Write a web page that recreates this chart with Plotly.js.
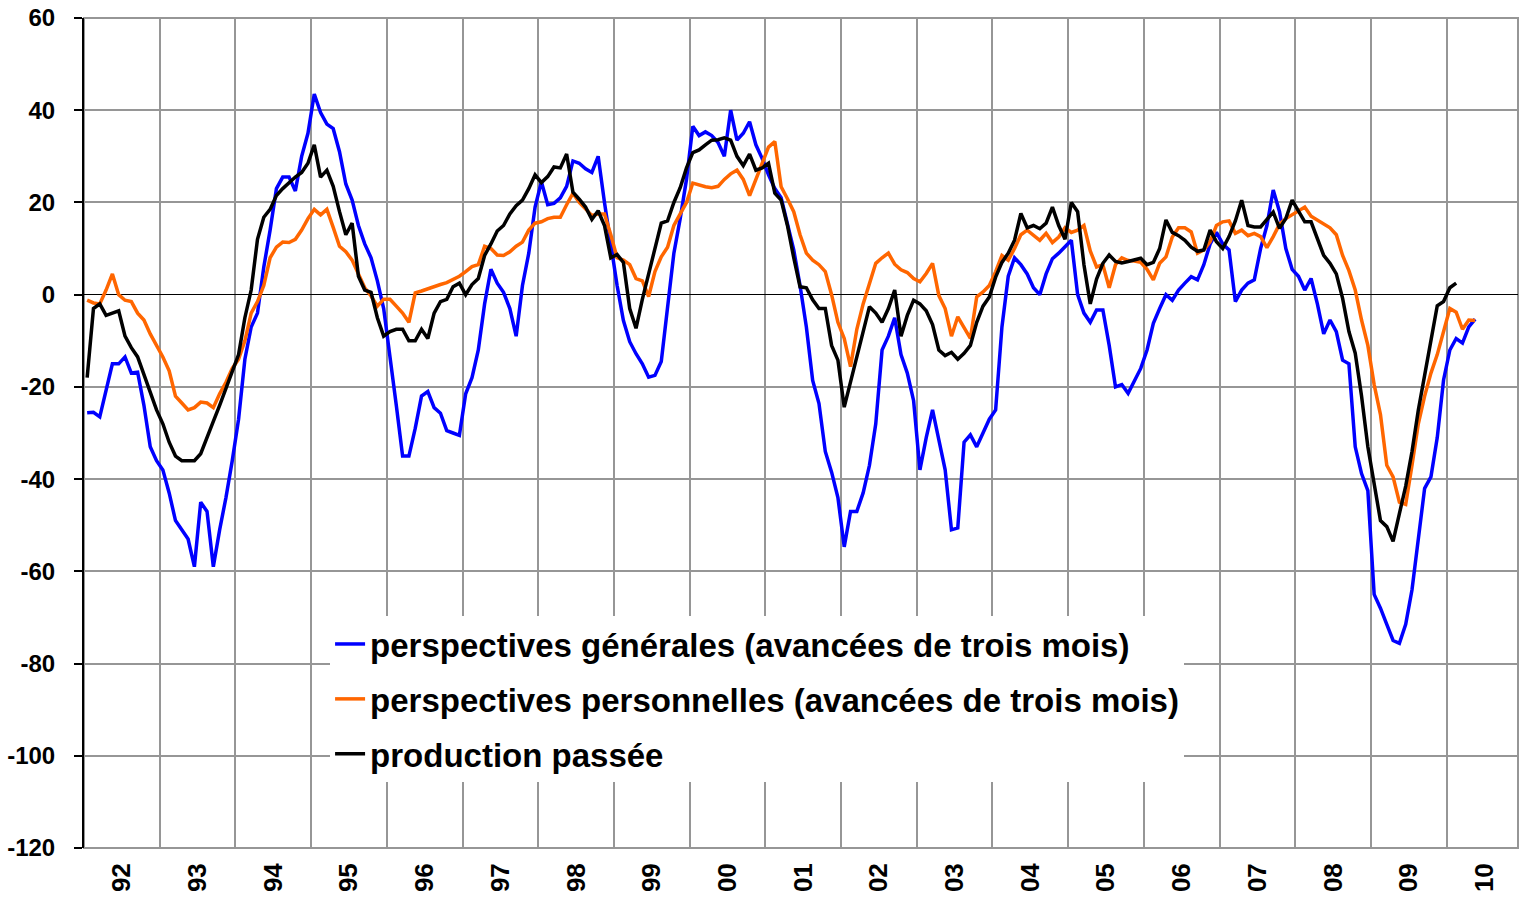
<!DOCTYPE html>
<html>
<head>
<meta charset="utf-8">
<script src="https://cdn.plot.ly/plotly-3.0.1.min.js"></script>
<style>
  html, body { margin: 0; padding: 0; background: #fff; }
  #chart { width: 1525px; height: 902px; }
</style>
</head>
<body>
<div id="chart"></div>
<script>
// monthly series, first value = January 1992
let yearLabels = ['92','93','94','95','96','97','98','99','00','01','02','03','04','05','06','07','08','09','10'];
let yTicks = [-120, -100, -80, -60, -40, -20, 0, 20, 40, 60];

let perspGenerales = [
  -25.6,-25.5,-26.5,-21,-15,-15,-13.5,-17,-16.8,-24,-33,-36,
  -38,-43,-49,-51,-53,-59,-45,-47,-59,-51,-44,-36,
  -27,-14,-7,-4,6,14,23,25.5,25.5,22.5,30,35,
  43.5,39.5,37,36,31,24,20.5,15,11,8,3,-3,
  -13,-24,-35,-35,-29,-22,-21,-24.5,-25.7,-29.5,-30,-30.5,
  -21.5,-18,-12,-2,5.5,2.5,0.5,-3,-9,2,9,19,
  24.5,19.5,19.8,21,23.5,29,28.5,27.3,26.5,30,20,11,
  2,-5.6,-10.2,-12.8,-15,-17.9,-17.5,-14.5,-2,9,16.5,25,
  36.5,34.5,35.3,34.5,33,30,40,33.5,35,37.5,32.5,29.5,
  26,23,21,15,9.7,2,-7,-18.6,-23.6,-34,-38.5,-44,
  -54.7,-47,-47,-43,-37,-28,-12,-9,-5,-13,-17,-23,
  -38,-31,-25,-31.5,-38,-51,-50.6,-32,-30.4,-33,-30,-27,
  -25,-7,4,8,6.5,4.5,1.5,0,4.5,7.8,9,10.5,
  11.8,0,-4,-6,-3.3,-3.3,-11,-20,-19.5,-21.4,-18.5,-16,
  -12,-6.2,-3,0,-1.2,1,2.5,3.9,3.2,6.5,11,13.5,
  11,9.7,-1.5,1,2.5,3.2,10,15,22.7,18,10,5.5,
  4,1,3.5,-2,-8.5,-5.5,-8,-14.2,-15,-33,-38.8,-42.5,
  -65,-68,-71.5,-75,-75.6,-71.5,-64,-53,-42,-39.5,-31,-18.5,
  -12,-9.5,-10.5,-7,-5.3
];

let perspPersonnelles = [
  -1.2,-1.8,-2,1,4.5,0,-1.2,-1.5,-4,-5.5,-8.5,-11,
  -13.5,-16.5,-22,-23.5,-25,-24.5,-23.3,-23.5,-24.5,-21.5,-19,-16,
  -14,-10,-4,-1.5,2,8,10.3,11.4,11.3,12,14,16.5,
  18.5,17.3,18.5,14.6,10.5,9.3,7.5,4.5,1.5,-0.3,-2.5,-1,
  -1,-2.5,-4,-6,0.4,0.8,1.3,1.6,2.2,2.6,3.2,4,
  5,6.1,6.5,10.5,10,8.6,8.5,9.3,10.5,11.4,14,15.5,
  15.8,16.5,16.8,16.8,19.5,22,20,18.5,17.2,17.5,17.5,13,
  8,7.5,6.5,3.5,3,-0.4,5,8.2,10.3,15,17.5,20,
  24.2,23.8,23.4,23.2,23.5,25,26.2,27,25,21.5,25,28,
  32,33.2,23.4,20.8,18,13,9,7.5,6.5,5,0,-6,
  -9.5,-15.6,-7.5,-2,2.5,6.8,8,9,6.6,5.4,4.8,3.5,
  2.8,4.6,6.8,-0.2,-3,-9,-4.8,-7,-9.5,-0.5,0.6,2,
  5,8.5,7.5,10,13,14,12.8,11.8,13.3,11.3,12.5,14.5,
  13.5,14,15,9.5,6,6.5,1.5,6.5,8,7.4,7.3,7,
  5.5,3.2,6.8,8.2,12.5,14.5,14.5,13.6,9,9.7,11.5,15,
  15.8,16,13.3,14,12.8,13.3,12.6,10.2,12.6,15.3,16.5,17.3,
  18.3,19,17,16.2,15.5,14.5,13,8.5,5.2,1,-5.5,-11,
  -19.5,-26,-37,-39.5,-45,-45.5,-37,-28,-22,-17,-13,-8,
  -3,-3.8,-7.5,-5.5,-5.6
];

let productionPassee = [
  -18,-3,-2,-4.5,-4,-3.5,-9,-11.5,-13.5,-17.5,-21,-25,
  -28,-32,-35,-36,-36,-36,-34.5,-30.8,-27.5,-24,-20.5,-17,
  -13,-5,1,12,16.8,18.5,21.5,23,24.3,25.5,26.5,28.5,
  32.5,25.5,27,23.5,18,13,15.5,4,1,0.5,-5,-9,
  -8,-7.5,-7.5,-10,-10,-7.5,-9.5,-4,-1.5,-1,1.7,2.5,
  0,2.2,3.5,8.5,11,13.8,15,17.5,19.3,20.5,23,26,
  24.3,25.6,27.7,27.5,30.5,22.2,20.7,19,16.3,18.2,15,8,
  8.7,7,-3,-7.3,-1,4.5,10.5,15.5,16,20,23.2,27.5,
  30.8,31.4,32.5,33.5,33.6,34,33.5,30,28,30.5,27,27.5,
  28.5,22,20.5,15,8,1.7,1.5,-1.1,-3,-3,-11,-14.2,
  -24.4,-19,-13,-7.5,-2.6,-4,-6,-3,1,-9,-4.5,-1.2,
  -2,-3.5,-6.5,-12,-13.2,-12.5,-14,-12.7,-11,-6,-2.5,-0.5,
  3.8,7,9,11.8,17.6,14.5,15,14.3,15.5,19,15,12,
  20,18,6.5,-2,3.4,6.8,8.6,7.2,6.9,7.2,7.5,7.9,
  6.5,7,10,16.2,13.5,12.8,11.8,10.3,9.4,9.7,14,11.5,
  10,12.6,16,20.5,15,14.7,14.7,16.2,17.9,14.4,16.5,20.5,
  18,15.8,15.8,12,8.5,6.8,4.5,-0.8,-8,-12.7,-22,-33,
  -41,-49,-50.3,-53.5,-47.5,-41.5,-34,-25,-17.5,-10,-2.4,-1.5,
  1.5,2.5
];

let seriesNames = [
  'perspectives générales (avancées de trois mois)',
  'perspectives personnelles (avancées de trois mois)',
  'production passée'
];
let seriesColors = ['rgb(0,0,255)', 'rgb(255,102,0)', 'rgb(0,0,0)'];
let seriesValues = [perspGenerales, perspPersonnelles, productionPassee];

// month index -> centre of its category slot
function monthX(vals) {
  return vals.map((v, i) => i + 0.5);
}

let data = seriesValues.map((vals, k) => ({
  x: monthX(vals),
  y: vals,
  type: 'scatter',
  mode: 'lines',
  name: seriesNames[k],
  legendgroup: 'g' + k,
  line: { color: seriesColors[k], width: 3.5 },
  hoverinfo: 'skip'
}));

let yearMid = yearLabels.map((_, k) => 12 * k + 6);
let yearEdge = yearLabels.slice(1).map((_, k) => 12 * (k + 1));

let fontFam = '"Liberation Sans", Arial, sans-serif';
let gridcol = 'rgb(150,150,150)';

let layout = {
  width: 1525,
  height: 902,
  margin: { l: 84, r: 7, t: 18, b: 54 },
  paper_bgcolor: '#fff',
  plot_bgcolor: '#fff',
  showlegend: true,
  font: { family: fontFam, color: '#000' },
  xaxis: {
    range: [0, 227.3],
    tickmode: 'array',
    tickvals: yearMid,
    ticktext: yearLabels,
    tickangle: -90,
    ticks: '',
    showgrid: false,
    zeroline: false,
    showline: false,
    ticklabelstandoff: 9,
    tickfont: { family: fontFam, size: 26, weight: 'bold', color: '#000' },
    minor: {
      tickmode: 'array',
      tickvals: yearEdge,
      showgrid: true,
      gridcolor: gridcol,
      gridwidth: 2,
      ticks: ''
    }
  },
  yaxis: {
    range: [-120, 60],
    tickmode: 'array',
    tickvals: yTicks,
    ticktext: yTicks.map(v => String(v)),
    ticks: 'outside',
    ticklen: 8,
    tickwidth: 2,
    tickcolor: '#000',
    showline: true,
    linecolor: '#000',
    linewidth: 2,
    showgrid: true,
    gridcolor: gridcol,
    gridwidth: 2,
    zeroline: true,
    zerolinecolor: '#000',
    zerolinewidth: 1.5,
    ticklabelstandoff: 14,
    tickfont: { family: fontFam, size: 24, weight: 'bold', color: '#000' }
  },
  shapes: [{
    type: 'rect', xref: 'paper', yref: 'paper',
    x0: 0, x1: 1, y0: 0, y1: 1,
    line: { color: gridcol, width: 2 },
    layer: 'below'
  }],
  legend: {
    x: 0.1716,
    y: 0.2795,
    xanchor: 'left',
    yanchor: 'top',
    bgcolor: '#fff',
    borderwidth: 0,
    tracegroupgap: 9,
    font: { family: fontFam, size: 33, weight: 'bold', color: '#000' }
  }
};

Plotly.newPlot('chart', data, layout, { displayModeBar: false, staticPlot: true });
</script>
</body>
</html>
